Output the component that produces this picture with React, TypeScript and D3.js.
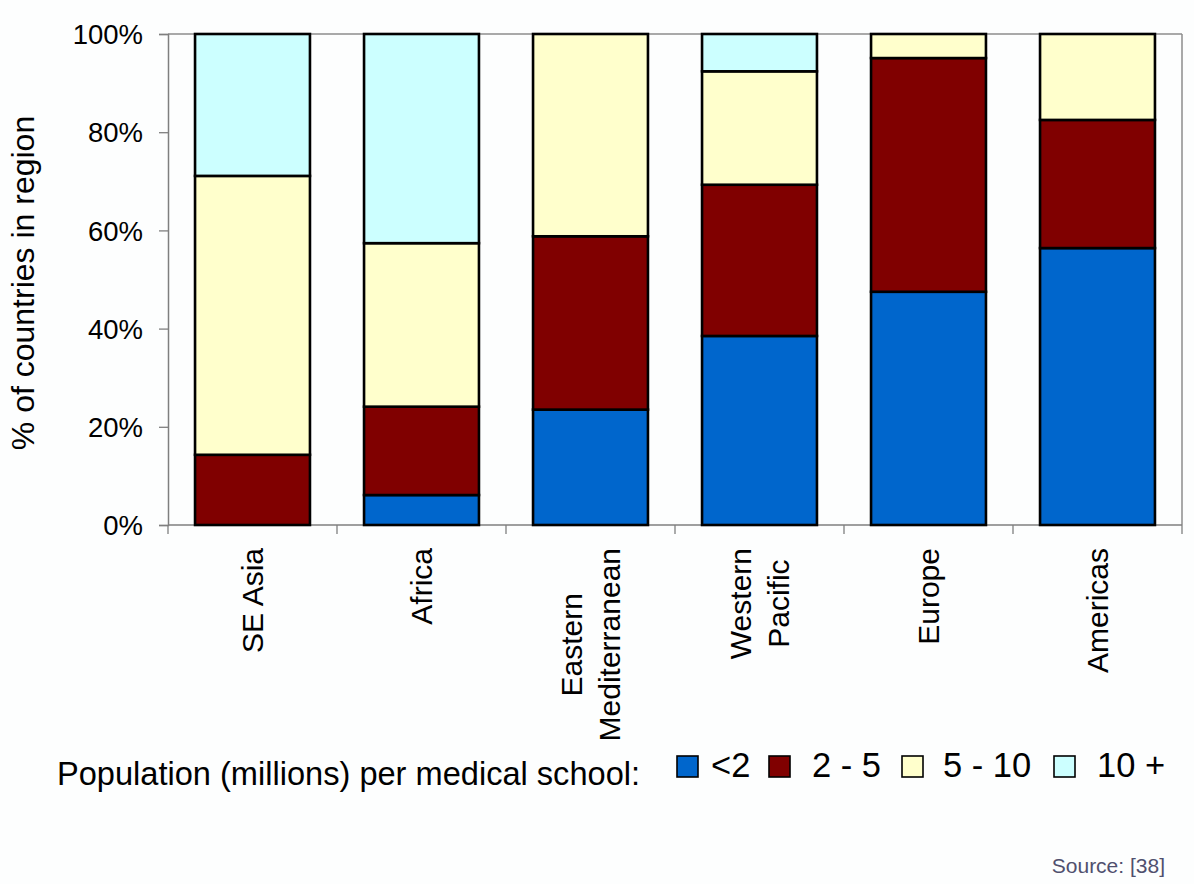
import React, { useEffect, useRef } from "react";
import * as d3 from "d3";

const regions = ["SE Asia", "Africa", "Eastern\nMediterranean", "Western\nPacific", "Europe", "Americas"];
const seriesNames = ["<2", "2 - 5", "5 - 10", "10 +"];
const seriesColors = ["#0066cc", "#800000", "#ffffcc", "#ccffff"];
const lt2 = [0, 6.1, 23.5, 38.5, 47.5, 56.4];
const from2to5 = [14.3, 18.0, 35.3, 30.8, 47.6, 26.1];
const from5to10 = [56.8, 33.3, 41.2, 23.1, 4.9, 17.5];
const over10 = [28.9, 42.6, 0, 7.6, 0, 0];
const yTicks = [0, 20, 40, 60, 80, 100];
const legendTitle = "Population (millions) per medical school:";
const sourceText = "Source: [38]";
const yTitle = "% of countries in region";

const W = 1194;
const H = 884;
const M = { left: 168, right: 1182, top: 34, bottom: 525 };
const FONT = "'Liberation Sans', Arial, Helvetica, sans-serif";

export default function App() {
  const ref = useRef<SVGSVGElement | null>(null);

  useEffect(() => {
    const svg = d3.select(ref.current);
    svg.selectAll("*").remove();

    svg.append("rect").attr("x", 0).attr("y", 0).attr("width", W).attr("height", H).attr("fill", "#fdfefe");

    const x = d3.scaleBand<string>().domain(regions).range([M.left, M.right]).paddingInner(0.32).paddingOuter(0.16);
    const y = d3.scaleLinear().domain([0, 100]).range([M.bottom, M.top]);

    const seriesData = [lt2, from2to5, from5to10, over10];
    const rows = regions.map((r, i) => {
      const o: any = { region: r };
      seriesNames.forEach((s, k) => (o[s] = seriesData[k][i]));
      return o;
    });
    const stack = d3.stack<any>().keys(seriesNames);
    const stacked = stack(rows);

    // frame: top and right gray lines
    svg.append("line").attr("x1", M.left).attr("x2", M.right).attr("y1", M.top).attr("y2", M.top)
      .attr("stroke", "#8c8c8c").attr("stroke-width", 1.5);
    svg.append("line").attr("x1", M.right).attr("x2", M.right).attr("y1", M.top).attr("y2", M.bottom)
      .attr("stroke", "#8c8c8c").attr("stroke-width", 1.5);

    // y axis
    const yAxis = d3.axisLeft(y).tickValues(yTicks).tickSize(9).tickPadding(16).tickFormat((d) => `${d}%`);
    const gy = svg.append("g").attr("transform", `translate(${M.left},0)`).call(yAxis as any);
    gy.select(".domain").attr("stroke", "#7f7f7f").attr("stroke-width", 1.5);
    gy.selectAll(".tick line").attr("stroke", "#7f7f7f").attr("stroke-width", 1.3);
    gy.selectAll(".tick text").attr("font-family", FONT).attr("font-size", 27.5).attr("fill", "#000").attr("dy", "0.35em");

    // x axis (ticks at category boundaries)
    const step = x.step();
    const bounds = d3.range(regions.length + 1).map((i) => M.left + i * step);
    svg.append("line").attr("x1", M.left).attr("x2", M.right).attr("y1", M.bottom).attr("y2", M.bottom)
      .attr("stroke", "#7f7f7f").attr("stroke-width", 1.5);
    svg.append("g").selectAll("line").data(bounds).join("line")
      .attr("x1", (d) => d).attr("x2", (d) => d).attr("y1", M.bottom).attr("y2", M.bottom + 9)
      .attr("stroke", "#7f7f7f").attr("stroke-width", 1.3);

    // bars
    svg.append("g").selectAll("g").data(stacked).join("g")
      .attr("fill", (_d, i) => seriesColors[i])
      .selectAll("rect")
      .data((d) => d.filter((p) => p[1] - p[0] > 0))
      .join("rect")
      .attr("x", (d: any) => x(d.data.region) as number)
      .attr("width", x.bandwidth())
      .attr("y", (d) => y(d[1]))
      .attr("height", (d) => y(d[0]) - y(d[1]))
      .attr("stroke", "#000")
      .attr("stroke-width", 2.6);

    // category labels
    const labelTop = 548;
    const lineGap = 38;
    regions.forEach((r) => {
      const lines = r.split("\n");
      const cx = (x(r) as number) + x.bandwidth() / 2;
      const g = svg.append("g");
      const texts = lines.map((ln) =>
        g.append("text").text(ln).attr("font-family", FONT).attr("font-size", 30).attr("fill", "#000")
          .attr("text-anchor", "middle")
      );
      const maxLen = d3.max(texts, (t) => (t.node() as SVGTextElement).getComputedTextLength()) || 0;
      const cy = labelTop + maxLen / 2;
      texts.forEach((t, i) => {
        const off = (i - (lines.length - 1) / 2) * lineGap;
        t.attr("transform", `translate(${cx + off},${cy}) rotate(-90)`).attr("dy", "0.36em");
      });
    });

    // y title
    svg.append("text").text(yTitle).attr("font-family", FONT).attr("font-size", 32).attr("fill", "#000")
      .attr("text-anchor", "middle").attr("transform", "translate(34,283) rotate(-90)");

    // legend
    svg.append("text").text(legendTitle).attr("x", 57).attr("y", 785).attr("font-family", FONT)
      .attr("font-size", 32.6).attr("fill", "#000");
    const sqX = [677, 769, 902, 1054];
    const txX = [711, 812, 943, 1097];
    const lg = svg.append("g");
    seriesNames.forEach((s, i) => {
      lg.append("rect").attr("x", sqX[i]).attr("y", 756).attr("width", 21).attr("height", 21)
        .attr("fill", seriesColors[i]).attr("stroke", "#000").attr("stroke-width", 1.6);
      lg.append("text").text(s).attr("x", txX[i]).attr("y", 777).attr("font-family", FONT)
        .attr("font-size", 34.5).attr("fill", "#000");
    });

    // source
    svg.append("text").text(sourceText).attr("x", 1165).attr("y", 873).attr("text-anchor", "end")
      .attr("font-family", FONT).attr("font-size", 21).attr("fill", "#50506e");
  }, []);

  return (
    <svg ref={ref} width={W} height={H} style={{ position: "absolute", left: 0, top: 0, display: "block" }} />
  );
}
